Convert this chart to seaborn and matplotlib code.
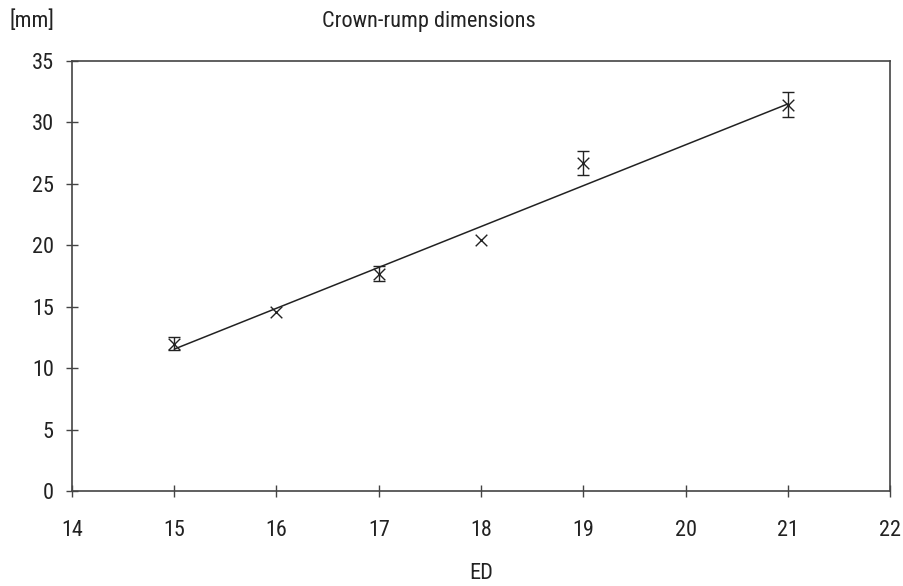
import matplotlib
matplotlib.use("Agg")
import matplotlib.pyplot as plt
import seaborn as sns
import pandas as pd

# ------ Dados ------ #
ed_days = [15, 16, 17, 18, 19, 21]
crl_mm = [12.0, 14.55, 17.7, 20.4, 26.7, 31.45]
crl_err = [0.55, 0.0, 0.6, 0.0, 1.0, 1.05]

fit_x = [15, 21]
fit_y = [11.55, 31.5]

x_ticks = [14, 15, 16, 17, 18, 19, 20, 21, 22]
y_ticks = [0, 5, 10, 15, 20, 25, 30, 35]

# ------ Estilo ------ #
sns.set_style("ticks")
plt.rcParams['font.family'] = ['Roboto Condensed', 'Liberation Sans Narrow',
                               'Liberation Sans', 'DejaVu Sans']
ink = "#222222"
fs = 16

fig = plt.figure(figsize=(9.04, 5.86), dpi=100)
ax = fig.add_axes([0.0796, 0.162, 0.905, 0.734])

df = pd.DataFrame({'ED': ed_days, 'CRL': crl_mm, 'err': crl_err})
fit_df = pd.DataFrame({'ED': fit_x, 'CRL': fit_y})

# linha de ajuste
sns.lineplot(data=fit_df, x='ED', y='CRL', ax=ax, color=ink, linewidth=1.1)

# barras de erro (só onde existem)
err_df = df[df['err'] > 0]
ax.errorbar(err_df['ED'], err_df['CRL'], yerr=err_df['err'], fmt='none',
            ecolor=ink, elinewidth=1.0, capsize=4.5, capthick=1.0)

# pontos
sns.scatterplot(data=df, x='ED', y='CRL', ax=ax, marker='x', s=70,
                color=ink, linewidth=1.0, zorder=5)

ax.set_xlim(14, 22)
ax.set_ylim(0, 35)
ax.set_xticks(x_ticks)
ax.set_yticks(y_ticks)
ax.tick_params(axis='both', direction='inout', length=8, width=1.0,
               colors="#444444", labelcolor=ink, labelsize=fs)
ax.tick_params(axis='x', pad=17)
ax.tick_params(axis='y', pad=9)

for side in ['top', 'right', 'left', 'bottom']:
    ax.spines[side].set_visible(True)
    ax.spines[side].set_color("#444444")
    ax.spines[side].set_linewidth(1.2)

ax.set_xlabel("ED", color=ink, fontsize=fs, labelpad=16)
ax.set_ylabel("")

fig.text(0.011, 0.964, "[mm]", ha='left', va='center', color=ink, fontsize=fs)
fig.text(0.4746, 0.964, "Crown-rump dimensions", ha='center', va='center',
         color=ink, fontsize=fs)

fig.savefig("out.png", dpi=100)
